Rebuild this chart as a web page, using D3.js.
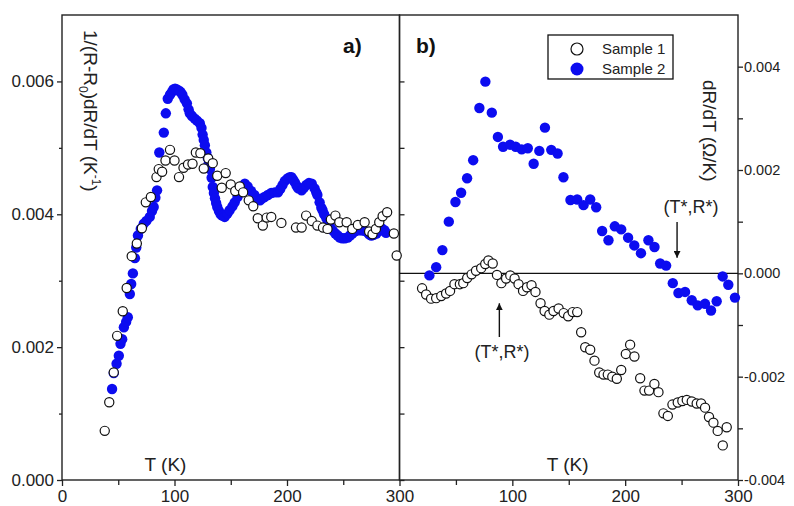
<!DOCTYPE html>
<html>
<head>
<meta charset="utf-8">
<script src="https://cdn.jsdelivr.net/npm/d3@7"></script>
<style>
  body { margin: 0; background: #fff; }
  svg { font-family: "Liberation Sans", Arial, sans-serif; }
</style>
</head>
<body>
<div id="chart"></div>
<script>
// panel a) : 1/(R-R0) dR/dT vs T, values in units of 1e-3 K^-1
const aSample1 = [[38,0.74],[42,1.17],[46,1.62],[49,2.17],[54,2.54],[57.5,2.89],[62,3.37],[66.5,3.56],[71,3.79],[74.5,4.18],[79,4.26],[84,4.56],[86,4.68],[89,4.64],[92,4.81],[96,4.97],[100,4.81],[104,4.56],[108,4.70],[112,4.75],[116,4.76],[119,4.93],[123,4.92],[126,4.69],[130,4.84],[134,4.77],[138,4.58],[142,4.40],[145.5,4.62],[150,4.45],[154,4.35],[158,4.42],[161,4.33],[166,4.21],[170,4.12],[174,3.94],[178.5,3.83],[182,3.95],[186,3.96],[195,3.87],[208,3.80],[213,3.80],[217,3.98],[222,3.90],[227,3.83],[232,3.80],[236,3.78],[239,3.92],[243,3.98],[246.5,3.88],[253,3.88],[258,3.78],[263,3.84],[269,3.88],[273,3.74],[276,3.70],[279,3.78],[282,3.88],[285,3.97],[289,4.03],[295,3.71],[297.5,3.38]];
const aSample2 = [[44.5,1.37],[46,1.61],[48.5,1.75],[50.5,1.87],[52,2.05],[53.5,2.12],[55,2.3],[57,2.38],[58.5,2.45],[60.3,2.8],[61.5,2.95],[63,3.11],[64.8,3.34],[66,3.5],[67.5,3.68],[70,3.78],[72.7,3.86],[75,3.9],[78,3.96],[80,4.05],[81.5,4.11],[83,4.25],[84.5,4.36],[86.5,4.93],[90.5,5.23],[92.3,5.52],[94,5.74],[96,5.8],[97.6,5.84],[99,5.88],[100.5,5.89],[102,5.88],[104,5.86],[105.5,5.84],[107,5.8],[109,5.73],[111,5.67],[112.5,5.58],[113.6,5.52],[115.5,5.48],[118,5.44],[120,5.41],[122.5,5.37],[124,5.3],[125,5.2],[126,5.12],[127,5.04],[128.3,4.93],[129.5,4.85],[130.5,4.77],[131.5,4.68],[133,4.55],[134,4.41],[135,4.32],[136,4.24],[137,4.17],[138,4.11],[139.5,4.05],[141,4.0],[142.5,3.98],[144.6,3.96],[147,4.01],[149,4.06],[151.5,4.12],[153.5,4.18],[156,4.26],[158,4.34],[160.6,4.43],[162.5,4.46],[165,4.42],[168,4.35],[171,4.29],[173.5,4.24],[176,4.21],[178,4.24],[180,4.26],[183,4.29],[186,4.32],[189,4.33],[192,4.33],[194,4.38],[196,4.44],[198,4.5],[200.5,4.54],[202.5,4.56],[204,4.56],[205.5,4.52],[207,4.48],[208.5,4.43],[210,4.39],[213,4.36],[215,4.4],[217,4.44],[219.5,4.47],[222,4.46],[224.5,4.39],[226,4.33],[227,4.29],[229,4.18],[230.5,4.1],[231.6,4.06],[233,4.0],[235,3.94],[236.5,3.88],[238,3.83],[240.5,3.76],[243,3.71],[245,3.68],[247,3.65],[249,3.64],[251.5,3.64],[254,3.65],[256,3.68],[258,3.71],[260,3.74],[262.6,3.76],[265,3.76],[267,3.76],[269,3.75],[271.5,3.73],[273,3.7],[275,3.68],[277,3.69],[279.5,3.71],[282,3.75],[284,3.79],[286.6,3.76],[288,3.72]];

// panel b) : dR/dT vs T, values in units of 1e-3 Ohm/K
const bSample1 = [[20,-0.29],[23.6,-0.41],[28,-0.49],[32.5,-0.48],[37,-0.44],[41.3,-0.39],[44.8,-0.34],[48.7,-0.21],[53.5,-0.21],[56.5,-0.19],[60,-0.09],[63.9,-0.02],[67.8,0.05],[72.4,0.1],[76,0.18],[78.8,0.25],[82.6,0.19],[86.4,-0.03],[90.3,-0.19],[94.5,-0.10],[98.2,-0.04],[102,-0.10],[105.5,-0.21],[109.5,-0.34],[113,-0.27],[117,-0.23],[120.5,-0.36],[125,-0.58],[128.6,-0.73],[132.8,-0.80],[136.5,-0.73],[141,-0.68],[145.5,-0.77],[149.5,-0.83],[153.5,-0.75],[157.5,-0.75],[161,-1.14],[164.6,-1.43],[169,-1.48],[172.8,-1.69],[177,-1.92],[180.8,-1.96],[184.6,-1.96],[188.6,-2.00],[192.6,-2.04],[196.5,-1.87],[200.6,-1.56],[204.4,-1.38],[208.2,-1.61],[213.3,-2.03],[217.1,-2.27],[221.2,-2.27],[225.9,-2.14],[229.5,-2.30],[233.9,-2.71],[237.8,-2.76],[241.9,-2.54],[246.6,-2.50],[250.7,-2.47],[254.6,-2.45],[259,-2.48],[263.4,-2.52],[267.3,-2.52],[270.8,-2.6],[274.3,-2.78],[278.2,-2.89],[282,-3.05],[286.5,-3.33],[290,-2.98]];
const bSample2 = [[26.5,-0.04],[32.5,0.12],[38,0.45],[43.7,1.0],[49.6,1.38],[54.6,1.56],[59.9,1.84],[65.3,2.19],[70.8,3.2],[76.1,3.71],[81.8,3.11],[87.2,2.64],[91.8,2.45],[98,2.49],[103,2.45],[108.3,2.40],[113.7,2.42],[118.9,2.12],[123.9,2.37],[128.9,2.82],[134.5,2.39],[140.1,2.32],[145.3,1.86],[151.5,1.42],[157.5,1.43],[163.1,1.32],[169,1.43],[174.3,1.28],[179.6,0.82],[185.2,0.64],[190.8,0.91],[196.5,0.85],[202.6,0.69],[208.1,0.54],[214,0.39],[220.6,0.64],[226,0.51],[231,0.19],[236.3,0.15],[242.2,-0.19],[247.2,-0.38],[253.1,-0.36],[259,-0.52],[264.3,-0.62],[270.8,-0.59],[276.1,-0.72],[281.1,-0.54],[286.4,-0.06],[291.4,-0.22],[297.3,-0.47]];

const xTicks = [0, 100, 200, 300];
const xMinor = [50, 150, 250];
const leftTicks = [0, 0.002, 0.004, 0.006];
const leftMinor = [0.001, 0.003, 0.005];
const rightTicks = [-0.004, -0.002, 0, 0.002, 0.004];
const rightMinor = [-0.003, -0.001, 0.001, 0.003];
const seriesNames = ["Sample 1", "Sample 2"];

const width = 794, height = 506;
const blue = "#0c0cf0";

const svg = d3.select("#chart").append("svg")
  .attr("width", width)
  .attr("height", height);

// scales
const xA = d3.scaleLinear().domain([0, 300]).range([62, 399.5]);
const xB = d3.scaleLinear().domain([0, 300]).range([399.5, 738]);
const yL = d3.scaleLinear().domain([0, 0.007]).range([480, 15]);
const yR = d3.scaleLinear().domain([-0.004, 0.005]).range([480, 15]);

const fmt = d => d.toFixed(3);

function styleAxis(g) {
  g.select(".domain").remove();
  g.selectAll(".tick line").attr("stroke", "#222").attr("stroke-width", 1.3);
  g.selectAll(".tick text").attr("fill", "#222");
}

// bottom axes (labels sit right at the lower edge, as in the figure)
svg.append("g").attr("transform", "translate(0,480)")
  .call(d3.axisBottom(xA).tickValues(xTicks).tickSize(6))
  .call(styleAxis)
  .call(g => g.selectAll(".tick text").attr("font-size", 17).attr("dy", null).attr("y", 22));
svg.append("g").attr("transform", "translate(0,480)")
  .call(d3.axisBottom(xA).tickValues(xMinor).tickSize(5).tickFormat(""))
  .call(styleAxis);
svg.append("g").attr("transform", "translate(0,480)")
  .call(d3.axisBottom(xB).tickValues(xTicks.slice(1)).tickSize(6))
  .call(styleAxis)
  .call(g => g.selectAll(".tick text").attr("font-size", 17).attr("dy", null).attr("y", 22));
svg.append("g").attr("transform", "translate(0,480)")
  .call(d3.axisBottom(xB).tickValues(xMinor).tickSize(5).tickFormat(""))
  .call(styleAxis);

// left axis of panel a
svg.append("g").attr("transform", "translate(62,0)")
  .call(d3.axisLeft(yL).tickValues(leftTicks).tickFormat(fmt).tickSize(5).tickPadding(3))
  .call(styleAxis)
  .call(g => g.selectAll(".tick text").attr("font-size", 17));
svg.append("g").attr("transform", "translate(62,0)")
  .call(d3.axisLeft(yL).tickValues(leftMinor).tickFormat("").tickSize(3))
  .call(styleAxis);

// mirrored ticks of panel a on the divider
svg.append("g").attr("transform", "translate(399.5,0)")
  .call(d3.axisRight(yL).tickValues(leftTicks.concat(leftMinor)).tickFormat("").tickSize(5))
  .call(styleAxis);

// right axis of panel b
svg.append("g").attr("transform", "translate(738,0)")
  .call(d3.axisRight(yR).tickValues(rightTicks).tickFormat(fmt).tickSize(5).tickPadding(1))
  .call(styleAxis)
  .call(g => g.selectAll(".tick text").attr("font-size", 14.5));
svg.append("g").attr("transform", "translate(738,0)")
  .call(d3.axisRight(yR).tickValues(rightMinor).tickFormat("").tickSize(5))
  .call(styleAxis);

// frames
svg.append("rect")
  .attr("x", xA(0)).attr("y", yL(0.007))
  .attr("width", xA(300) - xA(0)).attr("height", yL(0) - yL(0.007))
  .attr("fill", "none").attr("stroke", "#222").attr("stroke-width", 1.4);
svg.append("rect")
  .attr("x", xB(0)).attr("y", yR(0.005))
  .attr("width", xB(300) - xB(0)).attr("height", yR(-0.004) - yR(0.005))
  .attr("fill", "none").attr("stroke", "#222").attr("stroke-width", 1.4);

// zero line in panel b
svg.append("line")
  .attr("x1", xB(0)).attr("x2", xB(300))
  .attr("y1", yR(0)).attr("y2", yR(0))
  .attr("stroke", "#111").attr("stroke-width", 1.3);

// data markers
function drawFilled(data, x, y) {
  svg.append("g").selectAll("circle").data(data).join("circle")
    .attr("cx", d => x(d[0])).attr("cy", d => y(d[1] / 1000))
    .attr("r", 5.2).attr("fill", blue);
}
function drawOpen(data, x, y) {
  svg.append("g").selectAll("circle").data(data).join("circle")
    .attr("cx", d => x(d[0])).attr("cy", d => y(d[1] / 1000))
    .attr("r", 4.6).attr("fill", "#fff").attr("stroke", "#111").attr("stroke-width", 1.2);
}
drawFilled(aSample2, xA, yL);
drawOpen(aSample1, xA, yL);
drawFilled(bSample2, xB, yR);
drawOpen(bSample1, xB, yR);

// axis titles
const tA = svg.append("text")
  .attr("transform", "translate(84,30) rotate(90)")
  .attr("font-size", 19).attr("fill", "#222");
tA.append("tspan").text("1/(R-R");
tA.append("tspan").attr("font-size", 12).attr("dy", 5).text("0");
tA.append("tspan").attr("dy", -5).text(")dR/dT (K");
tA.append("tspan").attr("font-size", 12).attr("dy", -8).text("-1");
tA.append("tspan").attr("dy", 8).text(")");

svg.append("text")
  .attr("transform", "translate(703,80) rotate(90)")
  .attr("font-size", 19).attr("fill", "#222")
  .text("dR/dT (\u03A9/K)");

svg.append("text").attr("x", xA(92)).attr("y", 471)
  .attr("text-anchor", "middle").attr("font-size", 19).attr("fill", "#222").text("T (K)");
svg.append("text").attr("x", xB(149)).attr("y", 471)
  .attr("text-anchor", "middle").attr("font-size", 19).attr("fill", "#222").text("T (K)");

// panel labels
svg.append("text").attr("x", 343).attr("y", 53)
  .attr("font-size", 21).attr("font-weight", "bold").attr("fill", "#111").text("a)");
svg.append("text").attr("x", 416).attr("y", 53)
  .attr("font-size", 21).attr("font-weight", "bold").attr("fill", "#111").text("b)");

// legend
const legend = svg.append("g").attr("transform", "translate(548,35)");
legend.append("rect").attr("width", 125).attr("height", 44)
  .attr("fill", "#fff").attr("stroke", "#111").attr("stroke-width", 1.3);
seriesNames.forEach((name, i) => {
  const row = legend.append("g").attr("transform", `translate(0,${14 + i * 20})`);
  if (i === 0) {
    row.append("circle").attr("cx", 29).attr("cy", 0).attr("r", 6)
      .attr("fill", "#fff").attr("stroke", "#111").attr("stroke-width", 1.2);
  } else {
    row.append("circle").attr("cx", 29).attr("cy", 0).attr("r", 6.5).attr("fill", blue);
  }
  row.append("text").attr("x", 54).attr("y", 5)
    .attr("font-size", 15).attr("fill", "#222").text(name);
});

// annotations with arrows
const defs = svg.append("defs");
defs.append("marker").attr("id", "arrow")
  .attr("viewBox", "0 0 10 10").attr("refX", 10).attr("refY", 5)
  .attr("markerWidth", 7).attr("markerHeight", 7)
  .attr("markerUnits", "userSpaceOnUse")
  .attr("orient", "auto")
  .append("path").attr("d", "M0,0L10,5L0,10z").attr("fill", "#111");

svg.append("text").attr("x", 691).attr("y", 213)
  .attr("text-anchor", "middle").attr("font-size", 18).attr("fill", "#222").text("(T*,R*)");
svg.append("line")
  .attr("x1", xB(246)).attr("x2", xB(246))
  .attr("y1", 222).attr("y2", yR(0.0003))
  .attr("stroke", "#111").attr("stroke-width", 1.4).attr("marker-end", "url(#arrow)");

svg.append("text").attr("x", 502).attr("y", 358)
  .attr("text-anchor", "middle").attr("font-size", 18).attr("fill", "#222").text("(T*,R*)");
svg.append("line")
  .attr("x1", xB(88.5)).attr("x2", xB(88.5))
  .attr("y1", 337).attr("y2", yR(-0.00058))
  .attr("stroke", "#111").attr("stroke-width", 1.4).attr("marker-end", "url(#arrow)");
</script>
</body>
</html>
